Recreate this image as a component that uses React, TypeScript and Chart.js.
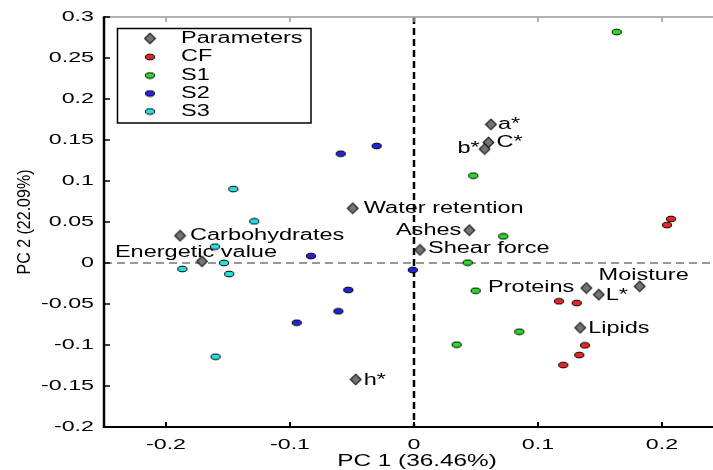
import React, { useEffect, useRef } from "react";
import { Chart, registerables } from "chart.js";

Chart.register(...registerables);

// ---------- data ----------
const paramNames = ["a*", "C*", "b*", "Water retention", "Carbohydrates", "Energetic value", "Ashes", "Shear force", "Proteins", "L*", "Moisture", "Lipids", "h*"];
const paramX = [0.062, 0.060, 0.057, -0.0494, -0.1887, -0.171, 0.0446, 0.0048, 0.139, 0.149, 0.182, 0.134, -0.047];
const paramY = [0.169, 0.147, 0.139, 0.0667, 0.0333, 0.002, 0.040, 0.016, -0.0305, -0.0386, -0.0285, -0.079, -0.142];

const cfX = [0.2073, 0.2040, 0.1169, 0.1312, 0.1379, 0.1333, 0.1204];
const cfY = [0.0537, 0.0463, -0.0467, -0.0488, -0.1004, -0.1122, -0.1244];

const s1X = [0.1635, 0.0478, 0.072, 0.0433, 0.0497, 0.0849, 0.0344];
const s1Y = [0.2817, 0.1065, 0.0325, 0.0004, -0.0338, -0.0838, -0.0996];

const s2X = [-0.0591, -0.0301, -0.0831, -0.001, -0.053, -0.061, -0.0946];
const s2Y = [0.1333, 0.1427, 0.0085, -0.0085, -0.0329, -0.0589, -0.0728];

const s3X = [-0.1457, -0.1288, -0.1605, -0.1868, -0.1532, -0.149, -0.160];
const s3Y = [0.0902, 0.0508, 0.0199, -0.0073, 0.0, -0.0134, -0.1143];

const xTicks = [-0.2, -0.1, 0, 0.1, 0.2];
const yTicks = [-0.2, -0.15, -0.1, -0.05, 0, 0.05, 0.1, 0.15, 0.2, 0.25, 0.3];

const xTitle = "PC 1 (36.46%)";
const yTitle = "PC 2 (22.09%)";
const seriesNames = ["Parameters", "CF", "S1", "S2", "S3"];

// ---------- styles ----------
const FONT = '"Liberation Sans", Arial, Helvetica, sans-serif';
const seriesColors = ["#747474", "#ee2222", "#22dd22", "#2222dd", "#22e0e0"];
// label placement for parameter labels: [align, dx, dy]
const labelPlace: [CanvasTextAlign, number, number][] = [
  ["left", 7, 0],
  ["left", 8, 0],
  ["right", -5, 0],
  ["left", 11, 0],
  ["left", 10, 0],
  ["center", -6, -9],
  ["right", -8, 0],
  ["left", 8, -1],
  ["right", -12, 0],
  ["left", 7, 1],
  ["center", 4, -11],
  ["left", 8, 1],
  ["left", 8, 1],
];

function makeEllipse(color: string): HTMLCanvasElement {
  const c = document.createElement("canvas");
  c.width = 12;
  c.height = 8;
  const g = c.getContext("2d")!;
  g.beginPath();
  g.ellipse(6, 4, 4.6, 2.8, 0, 0, Math.PI * 2);
  g.fillStyle = color;
  g.fill();
  g.lineWidth = 1;
  g.strokeStyle = "#000";
  g.stroke();
  return c;
}

function makeDiamond(color: string): HTMLCanvasElement {
  const c = document.createElement("canvas");
  c.width = 13;
  c.height = 13;
  const g = c.getContext("2d")!;
  g.beginPath();
  g.moveTo(6.5, 1.2);
  g.lineTo(11.8, 6.5);
  g.lineTo(6.5, 11.8);
  g.lineTo(1.2, 6.5);
  g.closePath();
  g.fillStyle = color;
  g.fill();
  g.lineWidth = 1.1;
  g.strokeStyle = "#111";
  g.stroke();
  return c;
}

function txt(ctx: CanvasRenderingContext2D, s: string, x: number, y: number, size: number, sx: number, align: CanvasTextAlign) {
  ctx.save();
  ctx.font = `${size}px ${FONT}`;
  ctx.fillStyle = "#000";
  ctx.textBaseline = "middle";
  ctx.textAlign = align;
  ctx.translate(x, y);
  ctx.scale(sx, 1);
  ctx.fillText(s, 0, 0);
  ctx.restore();
}

const fmt = (v: number) => String(Number(v.toFixed(2)));

export default function App() {
  const ref = useRef<HTMLCanvasElement>(null);

  useEffect(() => {
    const canvas = ref.current!;
    const styles = [makeDiamond(seriesColors[0]), ...seriesColors.slice(1).map(makeEllipse)];
    const xs = [paramX, cfX, s1X, s2X, s3X];
    const ys = [paramY, cfY, s1Y, s2Y, s3Y];

    const decor = {
      id: "pcaDecor",
      beforeDatasetsDraw(chart: any) {
        const ctx: CanvasRenderingContext2D = chart.ctx;
        const a = chart.chartArea;
        const xs0 = chart.scales.x.getPixelForValue(0);
        const ys0 = chart.scales.y.getPixelForValue(0);
        ctx.save();
        ctx.strokeStyle = "#777";
        ctx.lineWidth = 1.5;
        ctx.setLineDash([8, 5]);
        ctx.beginPath();
        ctx.moveTo(a.left, ys0);
        ctx.lineTo(a.right, ys0);
        ctx.stroke();
        ctx.strokeStyle = "#000";
        ctx.lineWidth = 2.5;
        ctx.setLineDash([7, 4]);
        ctx.beginPath();
        ctx.moveTo(xs0, a.top);
        ctx.lineTo(xs0, a.bottom);
        ctx.stroke();
        ctx.restore();
      },
      afterDatasetsDraw(chart: any) {
        const ctx: CanvasRenderingContext2D = chart.ctx;
        const a = chart.chartArea;
        const sxs = chart.scales.x;
        const sys = chart.scales.y;
        ctx.save();
        const meta = chart.getDatasetMeta(0);
        meta.data.forEach((pt: any, i: number) => {
          const [al, dx, dy] = labelPlace[i];
          txt(ctx, paramNames[i], pt.x + dx, pt.y + dy, 16, 1.47, al);
        });
        ctx.setLineDash([]);
        ctx.strokeStyle = "#999";
        ctx.lineWidth = 1.5;
        ctx.beginPath();
        ctx.moveTo(a.left, a.top);
        ctx.lineTo(a.right, a.top);
        ctx.stroke();
        for (const v of xTicks) {
          const px = sxs.getPixelForValue(v);
          ctx.beginPath();
          ctx.moveTo(px, a.top);
          ctx.lineTo(px, a.top + 5);
          ctx.stroke();
        }
        ctx.strokeStyle = "#000";
        ctx.lineWidth = 2;
        ctx.beginPath();
        ctx.moveTo(a.left, a.bottom);
        ctx.lineTo(a.right, a.bottom);
        ctx.stroke();
        for (const v of xTicks) {
          const px = sxs.getPixelForValue(v);
          ctx.lineWidth = 2;
          ctx.beginPath();
          ctx.moveTo(px, a.bottom);
          ctx.lineTo(px, a.bottom - 5);
          ctx.stroke();
          txt(ctx, fmt(v), px, 445, 15, 1.55, "center");
        }
        ctx.lineWidth = 2.5;
        ctx.beginPath();
        ctx.moveTo(a.left, a.top - 0.75);
        ctx.lineTo(a.left, a.bottom + 1);
        ctx.stroke();
        for (const v of yTicks) {
          const py = sys.getPixelForValue(v);
          ctx.lineWidth = 1.5;
          ctx.beginPath();
          ctx.moveTo(a.left, py);
          ctx.lineTo(a.left + 6, py);
          ctx.stroke();
          txt(ctx, fmt(v), 94, py, 15, 1.55, "right");
        }
        txt(ctx, xTitle, 417, 462, 16, 1.52, "center");
        ctx.save();
        ctx.font = `16px ${FONT}`;
        ctx.fillStyle = "#000";
        ctx.textAlign = "center";
        ctx.textBaseline = "middle";
        ctx.translate(25, (a.top + a.bottom) / 2);
        ctx.scale(1.15, 1);
        ctx.rotate(-Math.PI / 2);
        ctx.fillText(yTitle, 0, 0);
        ctx.restore();
        // legend
        const L = 117.5, T = 28.5, R = 311, B = 123;
        ctx.fillStyle = "#fff";
        ctx.fillRect(L, T, R - L, B - T);
        ctx.strokeStyle = "#000";
        ctx.lineWidth = 1.5;
        ctx.strokeRect(L, T, R - L, B - T);
        const rows = [38.5, 57, 75.5, 93.5, 111.5];
        seriesNames.forEach((n, i) => {
          const img = styles[i];
          ctx.drawImage(img, 150 - img.width / 2, rows[i] - img.height / 2);
          txt(ctx, n, 181, rows[i], 16, 1.47, "left");
        });
        ctx.restore();
      },
    };

    const chart = new Chart(canvas, {
      type: "scatter",
      data: {
        datasets: seriesNames.map((n, k) => ({
          label: n,
          data: xs[k].map((x, i) => ({ x, y: ys[k][i] })),
          pointStyle: styles[k] as any,
          pointRadius: 5,
          pointHoverRadius: 5,
          order: k === 0 ? 10 : 5 - k,
        })),
      },
      options: {
        responsive: false,
        animation: false,
        devicePixelRatio: 1,
        layout: { padding: { left: 104, top: 17, right: 6, bottom: 43 } },
        plugins: { legend: { display: false }, tooltip: { enabled: false } },
        events: [],
        scales: {
          x: { type: "linear", min: -0.25, max: 0.25, display: false },
          y: { type: "linear", min: -0.2, max: 0.3, display: false },
        },
      },
      plugins: [decor],
    });
    return () => chart.destroy();
  }, []);

  return (
    <div style={{ position: "fixed", left: 0, top: 0, width: 713, height: 470, overflow: "hidden", background: "#fff" }}>
      <canvas ref={ref} width={730} height={470} style={{ display: "block" }} />
    </div>
  );
}
